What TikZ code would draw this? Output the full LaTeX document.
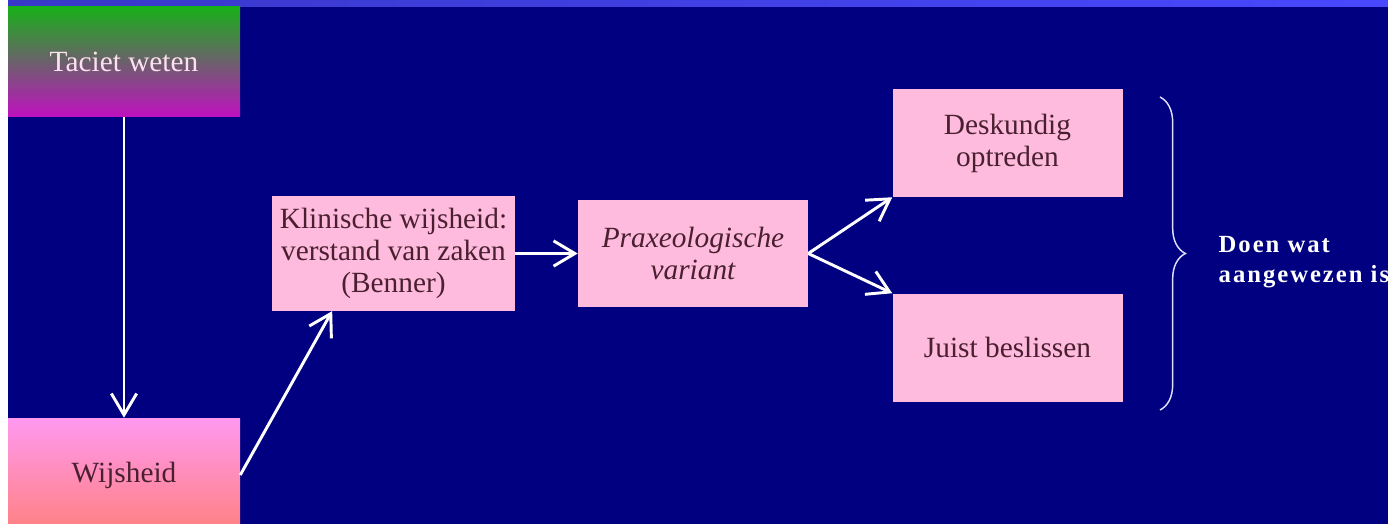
\documentclass[tikz,border=0pt]{standalone}
\usepackage{fontspec}
\setmainfont{Liberation Serif}
\newfontfamily\doenfont[LetterSpace=8]{Liberation Serif}
\usepackage{tikz}
\usetikzlibrary{arrows.meta,decorations.pathreplacing}

\definecolor{navy}{HTML}{000080}
\definecolor{bandleft}{HTML}{3838C8}
\definecolor{bandright}{HTML}{4848FF}
\definecolor{boxpink}{HTML}{FFBBDD}
\definecolor{boxtext}{HTML}{4A2030}
\definecolor{tacgreen}{HTML}{18B018}
\definecolor{tacmagenta}{HTML}{C010C0}
\definecolor{wijstop}{HTML}{FF99F0}
\definecolor{wijsbottom}{HTML}{FF8080}
\definecolor{bracewhite}{HTML}{E0E0FF}

\begin{document}
\begin{tikzpicture}[x=0.75pt,y=-0.75pt]
\tikzstyle{box}=[rectangle, fill=boxpink, text=boxtext, align=center, inner sep=0pt,
    font=\fontsize{22}{24}\selectfont]
\tikzstyle{arr}=[draw=white, line width=2.2pt, -{Straight Barb[length=16pt, width=19pt]}]

\useasboundingbox (0,0) rectangle (1388,524);
\fill[white] (0,0) rectangle (1388,524);
\fill[navy] (8,7) rectangle (1388,524);
\shade[left color=bandleft, right color=bandright] (8,0) rectangle (1388,7);

\node[box, top color=tacgreen, bottom color=tacmagenta, text=white!88!magenta,
    minimum width = 174pt, minimum height = 82.5pt] (taciet) at (124,62) {Taciet weten};

\node[box, top color=wijstop, bottom color=wijsbottom,
    minimum width = 174pt, minimum height = 85.5pt] (wijs) at (124,475) {Wijsheid};

\node[box, minimum width = 182pt,
    minimum height = 86pt] (klin) at (393.5,253.5) {Klinische wijsheid:\\verstand van zaken\\(Benner)};

\node[box, minimum width = 172.5pt,
    minimum height = 80pt] (prax) at (693,253.5) {\itshape Praxeologische\\\itshape variant};

\node[box, minimum width = 172.5pt,
    minimum height = 81pt] (desk) at (1007.5,143) {Deskundig\\optreden};

\node[box, minimum width = 172.5pt,
    minimum height = 81pt] (juist) at (1007.5,347.5) {Juist beslissen};

\draw[arr] (taciet) -- (wijs);
\draw[arr] (wijs.east) -- ([xshift=-46pt]klin.south);
\draw[arr] (klin) -- (prax);
\draw[arr] (prax.east) -- (desk.south west);
\draw[arr] (prax.east) -- (juist.north west);

\coordinate (btop) at (1160,97);
\coordinate (bbot) at (1160,410);
\draw[bracewhite, line width=1.1pt, decorate, decoration={brace, amplitude=19pt}] (btop) -- (bbot);

\node[anchor=west, align=left, text=white, font=\doenfont\bfseries\fontsize{18.5}{23}\selectfont]
    (doen) at (1214,262) {Doen wat\\aangewezen is};
\end{tikzpicture}
\end{document}
